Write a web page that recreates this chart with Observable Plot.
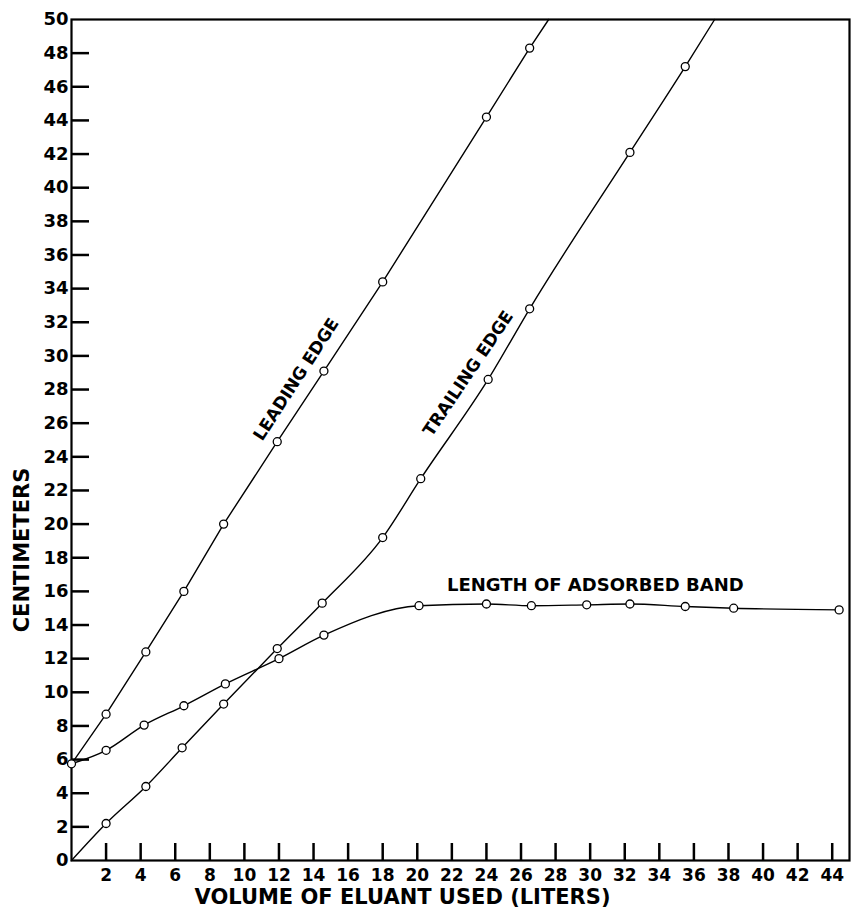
<!DOCTYPE html>
<html><head><meta charset="utf-8">
<script src="https://cdn.jsdelivr.net/npm/d3@7"></script>
<script src="https://cdn.jsdelivr.net/npm/@observablehq/plot@0.6"></script>
<style>body{margin:0;background:#fff}</style>
</head><body><div id="chart"></div>
<script>
// Leading edge (cm) vs eluant volume (liters)
const leadX = [0, 2, 4.3, 6.5, 8.8, 11.9, 14.6, 18, 24, 26.5];
const leadY = [5.75, 8.7, 12.4, 16.0, 20.0, 24.9, 29.1, 34.4, 44.2, 48.3];
const leadEnd = [27.6, 50];     // where the curve leaves the frame
// Trailing edge
const trailX = [0, 2, 4.3, 6.4, 8.8, 11.9, 14.5, 18, 20.2, 24.1, 26.5, 32.3, 35.5];
const trailY = [0, 2.2, 4.4, 6.7, 9.3, 12.6, 15.3, 19.2, 22.7, 28.6, 32.8, 42.1, 47.2];
const trailEnd = [37.2, 50];
// Length of adsorbed band
const bandX = [0, 2, 4.2, 6.5, 8.9, 12, 14.6, 20.1, 24, 26.6, 29.8, 32.3, 35.5, 38.3, 44.4];
const bandY = [5.75, 6.55, 8.05, 9.2, 10.5, 12.0, 13.4, 15.15, 15.25, 15.15, 15.2, 15.25, 15.1, 15.0, 14.9];

const xTicks = d3.range(2, 45, 2);
const yTicks = d3.range(2, 50, 2);
const yLabels = d3.range(0, 51, 2);
const labelText = ["LEADING EDGE", "TRAILING EDGE", "LENGTH OF ADSORBED BAND"];
const labelX = [13.0, 22.95, 30.3];
const labelY = [28.6, 28.95, 16.35];
const labelRot = [-57, -56, 0];

const pts = (xs, ys) => xs.map((x, i) => ({x, y: ys[i]}));
const lead = pts(leadX, leadY);
const trail = pts(trailX, trailY);
const band = pts(bandX, bandY);
const leadLine = [...lead, {x: leadEnd[0], y: leadEnd[1]}];
const trailLine = [...trail, {x: trailEnd[0], y: trailEnd[1]}];
const labels = labelText.map((t, i) => ({t, x: labelX[i], y: labelY[i], r: labelRot[i]}));

const font = "'DejaVu Sans', sans-serif";
const plot = Plot.plot({
  width: 853,
  height: 914,
  marginLeft: 71,
  marginRight: 4,
  marginTop: 19,
  marginBottom: 54,
  style: {fontFamily: font, fontWeight: "bold", fontSize: "17px"},
  x: {domain: [0, 45]},
  y: {domain: [0, 50]},
  marks: [
    // inward tick marks (inset = frame size minus tick length)
    Plot.ruleX(xTicks, {x: d => d, insetTop: 824, stroke: "#000", strokeWidth: 2.5}),
    Plot.ruleY(yTicks, {y: d => d, insetRight: 760, stroke: "#000", strokeWidth: 2.5}),
    Plot.frame({stroke: "black", strokeWidth: 2.2}),
    Plot.axisX({ticks: xTicks, tickSize: 0, tickPadding: 8, fontSize: 17, fontWeight: "bold", label: null}),
    Plot.axisY({ticks: yLabels, tickSize: 0, tickPadding: 3, fontSize: 18, fontWeight: "bold", label: null}),
    Plot.line(leadLine, {x: "x", y: "y", curve: "linear", stroke: "black", strokeWidth: 1.4}),
    Plot.line(trailLine, {x: "x", y: "y", curve: "monotone-x", stroke: "black", strokeWidth: 1.4}),
    Plot.line(band, {x: "x", y: "y", curve: "monotone-x", stroke: "black", strokeWidth: 1.4}),
    Plot.dot(lead, {x: "x", y: "y", r: 4, fill: "white", stroke: "black", strokeWidth: 1.3}),
    Plot.dot(trail.slice(1), {x: "x", y: "y", r: 4, fill: "white", stroke: "black", strokeWidth: 1.3}),
    Plot.dot(band.slice(1), {x: "x", y: "y", r: 4, fill: "white", stroke: "black", strokeWidth: 1.3}),
    Plot.text(labels.slice(0, 2), {x: "x", y: "y", text: "t", rotate: "r", fontSize: 17, fontWeight: "bold", fill: "black", textAnchor: "middle", lineAnchor: "middle", letterSpacing: 1}),
    Plot.text(labels.slice(2), {x: "x", y: "y", text: "t", fontSize: 18, fontWeight: "bold", fill: "black", textAnchor: "middle", lineAnchor: "middle", letterSpacing: 1.5}),
    Plot.text(["VOLUME OF ELUANT USED (LITERS)"], {frameAnchor: "bottom", dy: 37, dx: -58, fontSize: 21, fontWeight: "bold", textAnchor: "middle", lineAnchor: "middle", fill: "black"}),
    Plot.text(["CENTIMETERS"], {frameAnchor: "left", rotate: -90, dx: -49, dy: 110, fontSize: 21, fontWeight: "bold", textAnchor: "middle", lineAnchor: "middle", fill: "black"})
  ]
});
document.getElementById("chart").appendChild(plot);
</script>
</body></html>
